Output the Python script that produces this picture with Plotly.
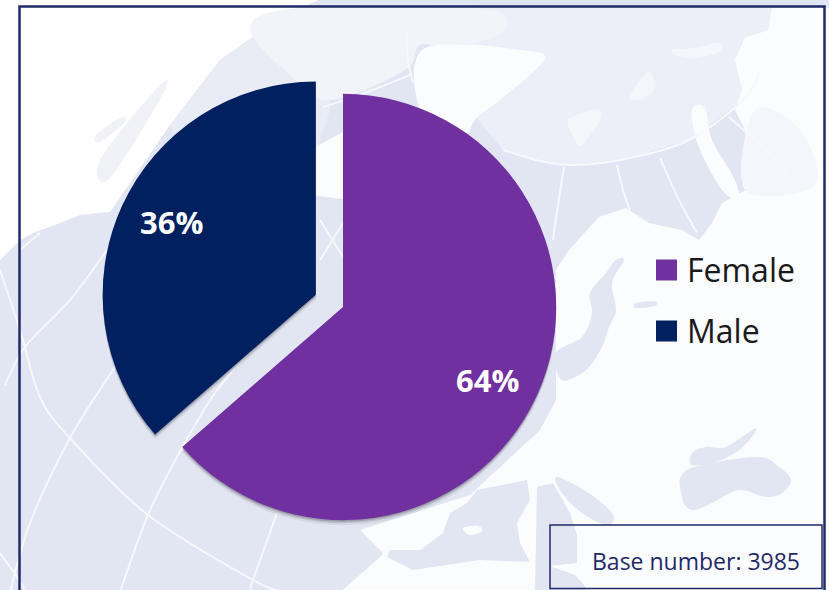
import math
import plotly.graph_objects as go

# ---- chart data
categories = ["Female", "Male"]
values = [63.6, 36.4]
colors = ["#7030A0", "#002060"]
pull = [0, 0.14]
base_note = "Base number: 3985"

W, H = 829, 590
CX, CY, OUTER = 343, 307, 243


def fx(x):
    return x / W


def fy(y):
    return 1 - y / H


def smooth_path(pts, closed=True):
    n = len(pts)
    d = f"M{fx(pts[0][0]):.5f},{fy(pts[0][1]):.5f}"
    segs = n if closed else n - 1
    for i in range(segs):
        p0 = pts[(i - 1) % n] if (closed or i > 0) else pts[i]
        p1 = pts[i]
        p2 = pts[(i + 1) % n]
        p3 = pts[(i + 2) % n] if (closed or i + 2 < n) else p2
        c1 = (p1[0] + (p2[0] - p0[0]) / 6, p1[1] + (p2[1] - p0[1]) / 6)
        c2 = (p2[0] - (p3[0] - p1[0]) / 6, p2[1] - (p3[1] - p1[1]) / 6)
        d += (f"C{fx(c1[0]):.5f},{fy(c1[1]):.5f} {fx(c2[0]):.5f},{fy(c2[1]):.5f} "
              f"{fx(p2[0]):.5f},{fy(p2[1]):.5f}")
    return d + ("Z" if closed else "")


def straight_path(pts):
    return "M" + "L".join(f"{fx(x):.5f},{fy(y):.5f}" for x, y in pts) + "Z"


shapes = []


def area(pts, fill, smooth=True):
    shapes.append(dict(type="path", xref="paper", yref="paper", layer="below",
                       path=smooth_path(pts) if smooth else straight_path(pts),
                       fillcolor=fill, line=dict(width=0)))


def curve(pts, color="#F7F8FC", width=2):
    shapes.append(dict(type="path", xref="paper", yref="paper", layer="below",
                       path=smooth_path(pts, closed=False),
                       line=dict(color=color, width=width)))


LAV = "#E2E5F2"
PALE = "#ECEFF8"
LAND = "#FBFCFE"
FAINT = "#F5F6FB"

# --- decorative map backdrop
area([(-5, 265), (20, 240), (35, 232), (55, 225), (80, 215), (110, 212), (170, 125), (220, 60),
      (270, 25), (300, 8), (330, -5), (835, -5), (835, 595), (-5, 595)], LAV, smooth=False)
area([(170, 125), (220, 60), (270, 25), (300, 8), (330, 8), (330, 110), (300, 200), (200, 200)],
     "#E9EBF5", smooth=False)
area([(100, 160), (155, 90), (165, 90), (110, 178)], "#F1F2F8")
area([(96, 135), (120, 118), (125, 122), (100, 142)], "#F1F2F8")
area([(460, 8), (829, 8), (829, 100), (745, 98), (691, 139), (630, 158), (574, 165), (540, 161),
      (503, 150), (470, 110), (440, 60)], PALE, smooth=False)
area([(250, 28), (300, 8), (480, 8), (505, 30), (455, 48), (420, 45), (405, 70), (330, 100),
      (290, 75)], "#F2F4FA")
area([(420, 52), (470, 45), (520, 50), (545, 56), (530, 75), (500, 100), (470, 130), (470, 200),
      (420, 110)], LAND)
area([(310, 150), (350, 128), (350, 200), (310, 195)], LAND, smooth=False)

# Eurasia and Africa
area([(772, 8), (829, 8), (829, 595), (337, 595), (380, 557), (383, 553), (360, 530), (470, 495),
      (540, 430), (556, 400), (556, 270), (569, 250), (599, 217), (626, 208), (649, 223), (682, 230),
      (699, 240), (712, 223), (722, 203), (746, 190), (755, 175), (750, 140), (735, 110), (742, 90),
      (735, 60), (745, 38), (768, 30)], LAND, smooth=False)
area([(755, 110), (800, 130), (815, 185), (745, 190)], FAINT)
area([(692, 110), (705, 108), (712, 140), (735, 180), (738, 198), (722, 190), (698, 145)], LAND)
area([(672, 50), (695, 48), (719, 43), (719, 52), (695, 58), (678, 56)], FAINT)
area([(640, 80), (650, 72), (655, 88), (645, 98), (630, 98)], FAINT)
area([(570, 118), (598, 110), (600, 120), (590, 135), (580, 146), (570, 130)], FAINT)

# Seas
area([(616, 260), (624, 260), (612, 283), (616, 310), (609, 327), (602, 347), (586, 370), (562, 380),
      (556, 353), (582, 337), (592, 313), (590, 293), (606, 273)], LAV)
area([(636, 303), (655, 301), (655, 306), (636, 308)], LAV)
area([(687, 470), (756, 457), (779, 467), (791, 480), (782, 493), (766, 497), (739, 490), (712, 503),
      (692, 510), (682, 497)], LAV)
area([(692, 453), (706, 447), (726, 447), (756, 428), (742, 448), (716, 462), (692, 465)], LAV)
area([(556, 477), (579, 487), (602, 503), (614, 517), (606, 525), (582, 513), (562, 493)], LAV)
area([(477, 490), (527, 480), (530, 500), (517, 523), (520, 543), (530, 562), (480, 560), (413, 570),
      (387, 557), (390, 550), (420, 550), (443, 533), (450, 513), (467, 503)], LAV, smooth=False)
area([(537, 487), (553, 483), (570, 513), (577, 535), (577, 563), (550, 566), (575, 575), (590, 592),
      (535, 592)], LAV, smooth=False)
area([(463, 528), (478, 526), (482, 531), (470, 535)], LAND)

# Graticule
curve([(503, 150), (540, 161), (574, 165), (630, 158), (691, 139), (745, 98), (760, 70)])
curve([(564, 167), (558, 205), (553, 240)])
curve([(617, 165), (623, 190), (630, 210)])
curve([(660, 158), (678, 198), (697, 233)])
curve([(729, 117), (765, 150), (798, 188)])
curve([(0, 270), (20, 330), (40, 397), (70, 438), (148, 515), (253, 580), (285, 592)])
curve([(107, 250), (70, 300), (25, 347), (5, 385)])
curve([(160, 300), (113, 370), (70, 438), (30, 523), (10, 592)])
curve([(260, 340), (217, 390), (182, 448), (148, 515), (120, 592)])
curve([(277, 513), (253, 580), (250, 592)])
curve([(0, 553), (17, 577), (26, 592)])
curve([(20, 250), (40, 233)])
curve([(323, 107), (365, 93), (410, 75)])
curve([(407, 33), (408, 60), (413, 83)])
curve([(320, 220), (345, 260)])
curve([(345, 220), (320, 260)])
curve([(533, 485), (532, 592)], color="#FBFCFE")

# Frame and the base-number box
frame = "#1F2A66"
shapes.append(dict(type="rect", xref="paper", yref="paper", layer="below",
                   x0=fx(19.5), x1=fx(824.5), y0=fy(620), y1=fy(6.5),
                   line=dict(color=frame, width=2.5), fillcolor="rgba(0,0,0,0)"))
shapes.append(dict(type="rect", xref="paper", yref="paper", layer="below",
                   x0=fx(550), x1=fx(822), y0=fy(588.5), y1=fy(525),
                   line=dict(color=frame, width=1.5), fillcolor="rgba(0,0,0,0)"))

# Legend swatches and labels
annotations = []
for cat, col, ly in zip(categories, colors, [270, 331]):
    shapes.append(dict(type="rect", xref="paper", yref="paper", layer="below",
                       x0=fx(656), x1=fx(677), y0=fy(ly + 10.5), y1=fy(ly - 10.5),
                       fillcolor=col, line=dict(width=0)))
    annotations.append(dict(text=cat, xref="paper", yref="paper", x=fx(685), y=fy(ly - 1),
                            xanchor="left", yanchor="middle", showarrow=False,
                            font=dict(family="Open Sans", size=32, color="#1A1A1A")))
annotations.append(dict(text=base_note, xref="paper", yref="paper", x=fx(802), y=fy(561),
                        xanchor="right", yanchor="middle", showarrow=False,
                        font=dict(family="Open Sans", size=23, color="#1F2A66")))

# Percent labels placed along each slice's bisector
radius = OUTER / (1 + max(pull))
start = 0.0
total = sum(values)
for v, p, (sx, sy) in zip(values, pull, [(-3, -6), (3, 6)]):
    mid = math.radians((start + v / 2) / total * 360)
    start += v
    dist = radius * p + 162
    annotations.append(dict(text=f"<b>{round(v / total * 100)}%</b>", xref="paper", yref="paper",
                            x=fx(CX + dist * math.sin(mid)), y=fy(CY - dist * math.cos(mid)),
                            xshift=sx, yshift=sy,
                            xanchor="center", yanchor="middle", showarrow=False,
                            font=dict(family="Open Sans", size=31, color="white")))


def pie_domain(shift):
    return dict(x=[fx(CX - OUTER), fx(CX + OUTER)],
                y=[fy(CY + shift + OUTER), fy(CY + shift - OUTER)])


fig = go.Figure()
# Soft drop shadow
for shift, alpha in [(5, 0.08), (3, 0.15), (1.5, 0.22)]:
    fig.add_trace(go.Pie(labels=categories, values=values, sort=False, direction="clockwise",
                         rotation=0, pull=pull, domain=pie_domain(shift),
                         marker=dict(colors=[f"rgba(50,50,60,{alpha})"] * 2, line=dict(width=0)),
                         textinfo="none", hoverinfo="skip", showlegend=False))
fig.add_trace(go.Pie(labels=categories, values=values, sort=False, direction="clockwise",
                     rotation=0, pull=pull, domain=pie_domain(0),
                     marker=dict(colors=colors, line=dict(width=0)),
                     textinfo="none", showlegend=False))

fig.update_layout(width=W, height=H, margin=dict(l=0, r=0, t=0, b=0), autosize=False,
                  paper_bgcolor="#FFFFFF", plot_bgcolor="rgba(0,0,0,0)",
                  showlegend=False, shapes=shapes, annotations=annotations)
fig.write_html("out.html", config={"displayModeBar": False},
               post_script="document.documentElement.style.overflow='hidden';document.body.style.margin='0';")
